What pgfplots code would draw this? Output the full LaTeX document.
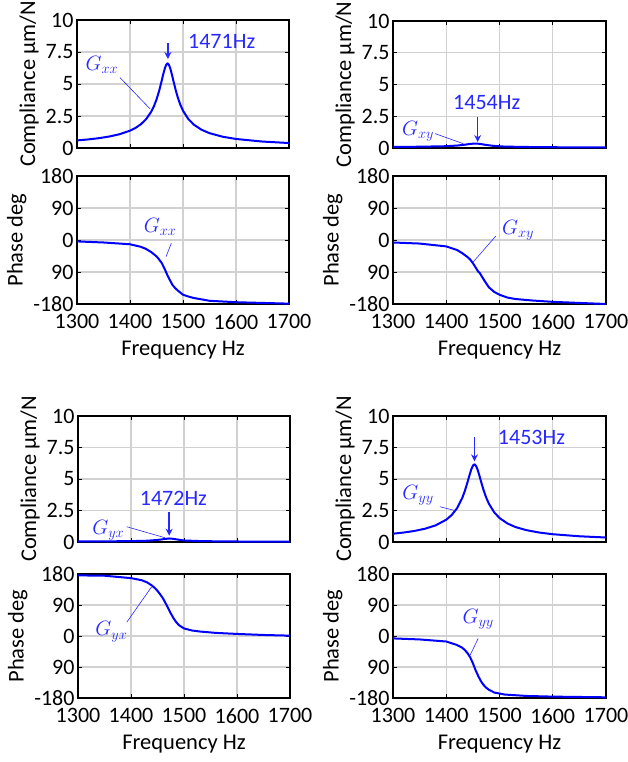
\documentclass[border=0pt]{standalone}
\usepackage{fontspec}
\setmainfont{Carlito}
\usepackage{pgfplots}
\pgfplotsset{compat=1.18}
\usetikzlibrary{arrows.meta}
\definecolor{annblue}{RGB}{40,40,255}
\pgfplotsset{
 base/.style={scale only axis, width=212pt, xmin=1300, xmax=1700,
   xtick={1300,1400,1500,1600,1700},
   grid=major, grid style={black!18, line width=1.3pt},
   axis line style={line width=1.6pt}, tick style={black, line width=0.8pt},
   major tick length=4pt, tick align=inside,
   ticklabel style={font=\fontsize{22}{22}\selectfont},
   xticklabel style={yshift=-7pt},
   label style={font=\fontsize{22.5}{22.5}\selectfont},
   xlabel style={yshift=-5pt},
   every axis plot/.append style={blue, line width=2pt, no markers},
   /pgf/number format/assume math mode=true, clip=false},
 comp/.style={base, ymin=0, ymax=10, ytick={0,2.5,5,7.5,10},
   yticklabels={0,2.5,5,7.5,10}, xticklabels={}, ylabel={Compliance μm/N}},
 phase/.style={base, ymin=-180, ymax=180, ytick={-180,-90,0,90,180},
   yticklabels={-180,90,0,90,180}, xticklabels={1300,1400,1500,1600,1700},
   xlabel={Frequency Hz}, ylabel={Phase deg}},
}
\tikzset{
 ann/.style={text=annblue, font=\fontsize{22}{22}\selectfont},
 lead/.style={annblue, line width=0.6pt},
 arr/.style={annblue, line width=1.4pt, -{Stealth[length=7pt,width=7pt]}},
}
\begin{document}
\begin{tikzpicture}
\useasboundingbox (0,0) rectangle (627pt,762pt);
% ---------- Gxx ----------
\begin{axis}[comp, height=128pt, at={(77pt,614pt)}, anchor=south west]
\addplot coordinates {(1300,0.592)(1320,0.665)(1340,0.760)(1360,0.889)(1380,1.072)(1400,1.354)(1410,1.559)(1420,1.838)(1430,2.232)(1440,2.829)(1445,3.251)(1450,3.788)(1455,4.467)(1460,5.289)(1463,5.809)(1466,6.253)(1468,6.468)(1470,6.582)(1471,6.599)(1472,6.576)(1474,6.445)(1476,6.22)(1479,5.752)(1482,5.229)(1486,4.553)(1490,3.968)(1495,3.377)(1500,2.916)(1510,2.266)(1520,1.839)(1535,1.425)(1550,1.158)(1575,0.879)(1600,0.705)(1650,0.502)(1700,0.387)};
\node[ann] at (axis cs:1573,8.3) {1471Hz};
\draw[arr] (axis cs:1471.5,8.2) -- (axis cs:1471.5,6.95);
\node[ann] at (axis cs:1347,6.5) {$G_{xx}$};
\draw[lead] (axis cs:1381,5.5) -- (axis cs:1438,3.05);
\end{axis}
\begin{axis}[phase, height=128pt, at={(77pt,458pt)}, anchor=south west]
\addplot coordinates {(1300,-4)(1350,-7)(1400,-12)(1420,-19)(1430,-25)(1440,-34)(1450,-46)(1455,-55)(1460,-65)(1465,-80)(1470,-97)(1475,-112)(1480,-126)(1485,-135)(1490,-142)(1500,-154)(1510,-159)(1520,-163)(1535,-167)(1550,-171)(1575,-173)(1600,-175)(1650,-177)(1700,-179)};
\node[ann] at (axis cs:1457,37) {$G_{xx}$};
\draw[lead] (axis cs:1478,-9) -- (axis cs:1468,-47);
\end{axis}
% ---------- Gxy ----------
\begin{axis}[comp, width=213pt, height=127pt, at={(393pt,614pt)}, anchor=south west]
\addplot coordinates {(1300,0.08)(1350,0.1)(1400,0.14)(1420,0.19)(1435,0.26)(1445,0.32)(1454,0.35)(1462,0.33)(1475,0.24)(1490,0.16)(1510,0.11)(1550,0.08)(1600,0.06)(1650,0.05)(1700,0.05)};
\node[ann] at (axis cs:1476,3.6) {1454Hz};
\draw[arr] (axis cs:1459,2.45) -- (axis cs:1459,0.47);
\node[ann] at (axis cs:1347,1.3) {$G_{xy}$};
\draw[lead] (axis cs:1379,1.13) -- (axis cs:1432,0.34);
\end{axis}
\begin{axis}[phase, width=213pt, height=128pt, at={(393pt,458pt)}, anchor=south west]
\addplot coordinates {(1300,-7)(1350,-10)(1400,-18)(1420,-28)(1430,-37)(1440,-48)(1445,-55)(1450,-65)(1455,-77)(1460,-89)(1463,-93)(1467,-103)(1472,-115)(1480,-133)(1490,-146)(1500,-154)(1515,-162)(1530,-166)(1560,-170)(1600,-174)(1650,-177)(1700,-180)};
\node[ann] at (axis cs:1535,28) {$G_{xy}$};
\draw[lead] (axis cs:1493,11) -- (axis cs:1451,-61);
\end{axis}
% ---------- Gyx ----------
\begin{axis}[comp, height=126pt, at={(78pt,220pt)}, anchor=south west]
\addplot coordinates {(1300,0.04)(1350,0.05)(1400,0.07)(1430,0.1)(1450,0.16)(1462,0.23)(1472,0.28)(1480,0.25)(1490,0.18)(1500,0.12)(1525,0.08)(1550,0.06)(1600,0.04)(1650,0.03)(1700,0.03)};
\node[ann] at (axis cs:1480,3.47) {1472Hz};
\draw[arr] (axis cs:1472,2.4) -- (axis cs:1472,0.5);
\node[ann] at (axis cs:1357,0.95) {$G_{yx}$};
\draw[lead] (axis cs:1392,1.21) -- (axis cs:1464,0.34);
\end{axis}
\begin{axis}[phase, height=124pt, at={(78pt,64pt)}, anchor=south west]
\addplot coordinates {(1300,176)(1350,175)(1400,168)(1420,162)(1430,156)(1440,146)(1445,139)(1450,131)(1455,121)(1460,110)(1465,96)(1470,81)(1475,66)(1480,52)(1485,41)(1490,32)(1500,22)(1515,16)(1530,13)(1560,9)(1600,6)(1650,3)(1700,1)};
\node[ann] at (axis cs:1363,12) {$G_{yx}$};
\draw[lead] (axis cs:1392,40) -- (axis cs:1439,143);
\end{axis}
% ---------- Gyy ----------
\begin{axis}[comp, width=213pt, height=126pt, at={(393pt,220pt)}, anchor=south west]
\addplot coordinates {(1300,0.659)(1320,0.751)(1340,0.875)(1360,1.052)(1380,1.319)(1400,1.770)(1410,2.132)(1420,2.663)(1430,3.487)(1435,4.064)(1440,4.760)(1444,5.353)(1447,5.762)(1450,6.050)(1452,6.142)(1453,6.151)(1454,6.142)(1456,6.03)(1459,5.724)(1462,5.305)(1466,4.699)(1470,4.127)(1475,3.525)(1480,3.043)(1490,2.355)(1500,1.904)(1515,1.467)(1530,1.188)(1550,0.944)(1575,0.748)(1600,0.617)(1650,0.454)(1700,0.357)};
\node[ann] at (axis cs:1560,8.3) {1453Hz};
\draw[arr] (axis cs:1453,8.3) -- (axis cs:1453,6.4);
\node[ann] at (axis cs:1347,3.73) {$G_{yy}$};
\draw[lead] (axis cs:1388,2.8) -- (axis cs:1416,2.5);
\end{axis}
\begin{axis}[phase, width=213pt, height=124pt, at={(393pt,64pt)}, anchor=south west]
\addplot coordinates {(1300,-7)(1350,-10)(1400,-16)(1420,-26)(1430,-34)(1435,-41)(1440,-50)(1445,-62)(1450,-79)(1455,-99)(1460,-116)(1465,-131)(1470,-142)(1475,-150)(1480,-156)(1490,-164)(1510,-170)(1550,-174)(1600,-176)(1650,-177)(1700,-178)};
\node[ann] at (axis cs:1460,48) {$G_{yy}$};
\draw[lead] (axis cs:1460,-7) -- (axis cs:1445,-55);
\end{axis}
\end{tikzpicture}
\end{document}
